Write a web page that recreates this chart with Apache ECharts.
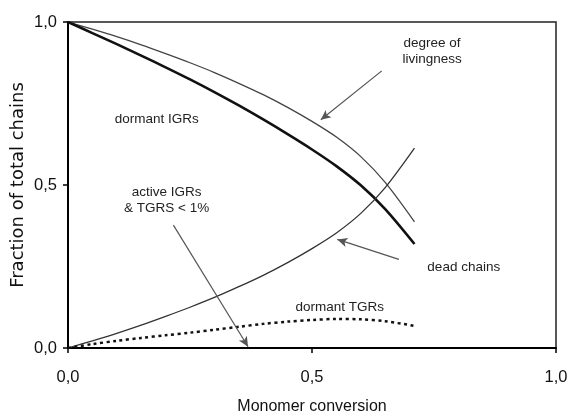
<!DOCTYPE html>
<html>
<head>
<meta charset="utf-8">
<script src="https://cdn.jsdelivr.net/npm/echarts@6/dist/echarts.min.js"></script>
<style>html,body{margin:0;padding:0;background:#fff}#c{width:567px;height:415px}</style>
</head>
<body>
<div id="c"></div>
<script>
const conversion = [0, 0.05, 0.1, 0.15, 0.2, 0.25, 0.3, 0.35, 0.4, 0.45, 0.5, 0.55, 0.6, 0.65, 0.71];
const livingness = [1, 0.978, 0.955, 0.93, 0.903, 0.875, 0.845, 0.812, 0.777, 0.738, 0.695, 0.647, 0.587, 0.508, 0.387];
const dormantIGR = [1, 0.966, 0.932, 0.897, 0.861, 0.824, 0.785, 0.744, 0.701, 0.656, 0.609, 0.558, 0.499, 0.426, 0.319];
const deadChains = [0, 0.022, 0.045, 0.07, 0.097, 0.125, 0.155, 0.188, 0.223, 0.262, 0.305, 0.353, 0.413, 0.492, 0.613];
const dormantTGR = [0, 0.012, 0.022, 0.031, 0.039, 0.047, 0.056, 0.065, 0.074, 0.081, 0.086, 0.089, 0.088, 0.082, 0.068];
const tickLabels = {0: '0,0', 0.5: '0,5', 1: '1,0'};
const xTitle = 'Monomer conversion';
const yTitle = 'Fraction of total chains';

const pairs = ys => conversion.map((x, i) => [x, ys[i]]);
const SANS = '"Liberation Sans", Arial, Helvetica, sans-serif';
const annoFont = {fontFamily: SANS, fontSize: 13.5, color: '#222', lineHeight: 16};
const label = (x, y, text) => ({
  coord: [x, y], symbol: 'circle', symbolSize: 0,
  label: Object.assign({show: true, position: 'inside', formatter: text, align: 'center'}, annoFont)
});
const arrow = (x1, y1, x2, y2) => [{coord: [x1, y1]}, {coord: [x2, y2]}];

const chart = echarts.init(document.getElementById('c'), null, {renderer: 'canvas'});
const axisCommon = {
  type: 'value', min: 0, max: 1, interval: 0.5,
  axisLine: {show: true, onZero: false, lineStyle: {color: '#000', width: 2}},
  axisTick: {show: true, inside: false, length: 5, lineStyle: {color: '#000', width: 1.5}},
  splitLine: {show: false},
  axisLabel: {formatter: v => tickLabels[v] ?? '', fontFamily: SANS, fontSize: 16.5, color: '#111'}
};
chart.setOption({
  animation: false,
  backgroundColor: '#fff',
  grid: {left: 68, right: 11, top: 22, bottom: 67, show: true, borderColor: '#222', borderWidth: 1.5,
         containLabel: false, outerBoundsMode: 'none'},
  xAxis: Object.assign({}, axisCommon, {
    name: xTitle, nameLocation: 'middle', nameGap: 51, nameMoveOverlap: false,
    nameTextStyle: {fontFamily: SANS, fontSize: 16, color: '#111'},
    axisLabel: Object.assign({}, axisCommon.axisLabel, {margin: 21})
  }),
  yAxis: Object.assign({}, axisCommon, {
    name: yTitle, nameLocation: 'middle', nameGap: 41, nameMoveOverlap: false,
    nameTextStyle: {fontFamily: '"DejaVu Sans", sans-serif', fontSize: 18, color: '#111'},
    axisLabel: Object.assign({}, axisCommon.axisLabel, {margin: 11})
  }),
  series: [
    {
      name: 'degree of livingness', type: 'line', data: pairs(livingness), smooth: 0.3,
      showSymbol: false, lineStyle: {color: '#444', width: 1.3},
      markLine: {
        silent: true, symbol: ['none', 'arrow'], symbolSize: [7, 10],
        lineStyle: {color: '#555', width: 1.2, type: 'solid'},
        label: {show: false},
        data: [
          arrow(0.643, 0.85, 0.518, 0.70),
          arrow(0.678, 0.272, 0.552, 0.333),
          arrow(0.216, 0.377, 0.369, 0.004)
        ]
      },
      markPoint: {
        silent: true,
        data: [
          label(0.746, 0.911, 'degree of\nlivingness'),
          label(0.182, 0.701, 'dormant IGRs'),
          label(0.202, 0.452, 'active IGRs\n& TGRS < 1%'),
          label(0.811, 0.249, 'dead chains'),
          label(0.557, 0.124, 'dormant TGRs')
        ]
      }
    },
    {
      name: 'dormant IGRs', type: 'line', data: pairs(dormantIGR), smooth: 0.3,
      showSymbol: false, lineStyle: {color: '#111', width: 2.6}
    },
    {
      name: 'dead chains', type: 'line', data: pairs(deadChains), smooth: 0.3,
      showSymbol: false, lineStyle: {color: '#333', width: 1.3}
    },
    {
      name: 'dormant TGRs', type: 'line', data: pairs(dormantTGR), smooth: 0.3,
      showSymbol: false, lineStyle: {color: '#111', width: 2.5, type: [3, 3.5]}
    }
  ]
});
</script>
</body>
</html>
